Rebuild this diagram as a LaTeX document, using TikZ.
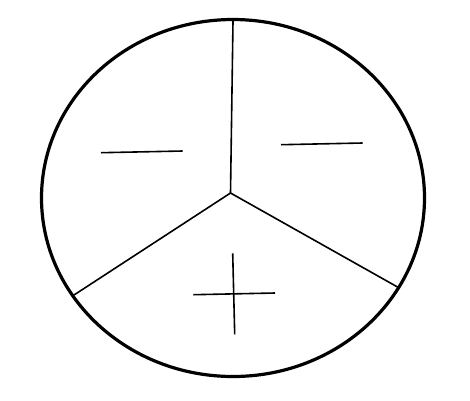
\documentclass[tikz,border=0pt]{standalone}
\begin{document}
\begin{tikzpicture}[x=1pt,y=-1pt,
  rim/.style={line width=3.2pt},
  divider/.style={line width=1.6pt},
  signline/.style={line width=1.6pt}]
\useasboundingbox (0,0) rectangle (470,400);
\coordinate (c) at (230.5,193);
\coordinate (t) at (233,21);
\coordinate (l) at (74,295);
\coordinate (r) at (397.5,287);
\draw[divider] (c) -- (t);
\draw[divider] (c) -- (l);
\draw[divider] (c) -- (r);
\draw[rim] (233,198) ellipse [x radius=191.5, y radius=178.5];
% minus signs
\draw[signline] (101,152.7) -- (182.7,151);
\draw[signline] (281,144.7) -- (362.7,143);
% plus sign
\draw[signline] (193.3,294.7) -- (275,293);
\draw[signline] (232.7,253.3) -- (234.7,334.3);
\end{tikzpicture}
\end{document}
